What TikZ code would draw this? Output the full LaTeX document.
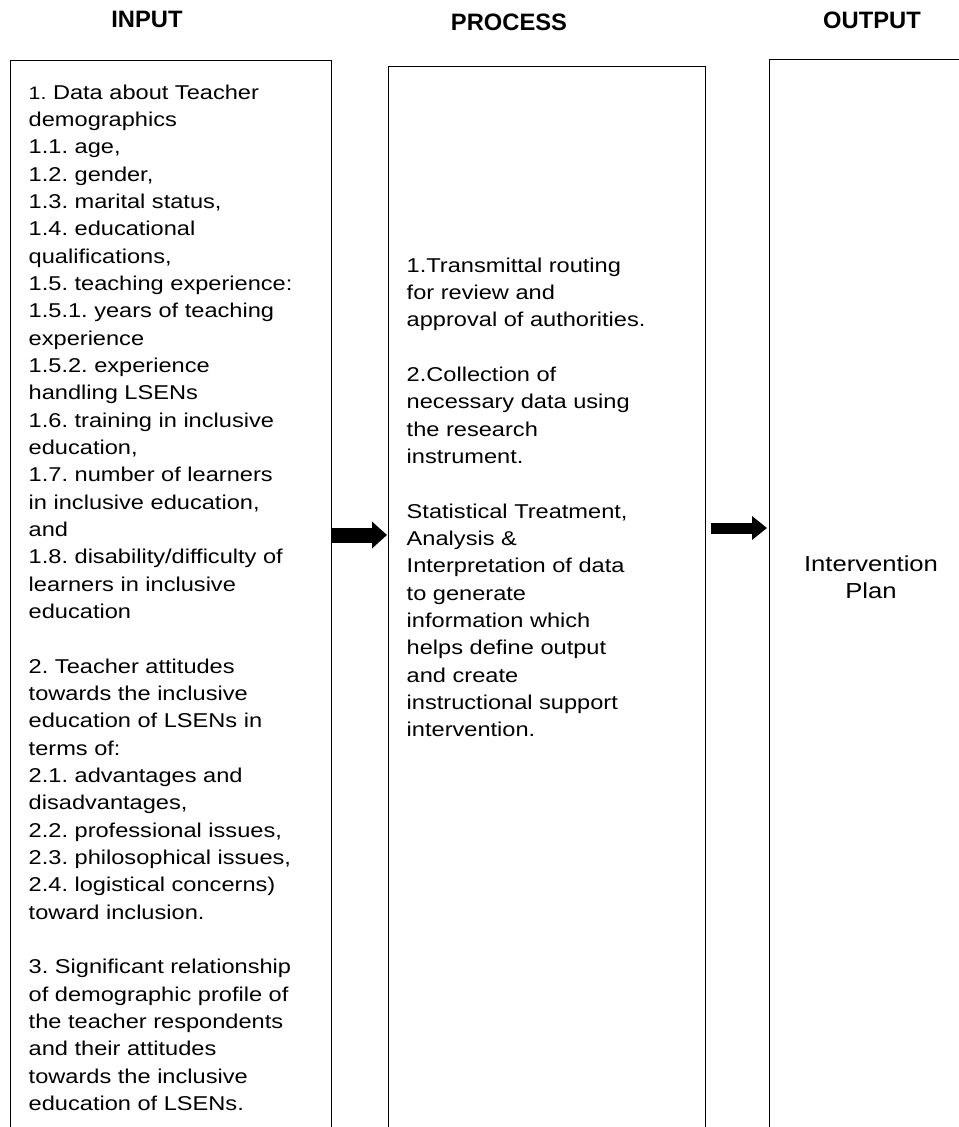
\documentclass[tikz,border=0pt]{standalone}
\usepackage{fontspec}
\setmainfont{Liberation Sans}
\newfontfamily\widefont[FakeStretch=1.18]{Liberation Sans}
\usetikzlibrary{arrows.meta, positioning}
\frenchspacing

\begin{document}
\begin{tikzpicture}[x=0.75pt, y=-0.75pt, line width=1.1pt,
	box/.style={draw, rectangle, anchor=north west, inner sep=0pt},
	heading/.style={font=\fontsize{17.8}{21}\selectfont\bfseries, inner sep=0pt},
	body/.style={font=\widefont\fontsize{15}{20.5}\selectfont\frenchspacing, align=left, inner sep=0pt},
	fat/.style={line width=11.25pt, -{Triangle[length=11.25pt, width=19.5pt]}},
	thin/.style={line width=8.25pt, -{Triangle[length=11.25pt, width=17.25pt]}}]
			\useasboundingbox (0,0) rectangle (959,1127);
			\clip (0,0) rectangle (959,1127);
			
			\node[heading] (inhead) at (147,19) {INPUT};
			\node[heading] (prochead) at (509,22) {PROCESS};
			\node[heading] (outhead) at (872,20) {OUTPUT};
			
			\node[box, minimum width=240.75pt, minimum height=810pt] (inbox) at (10,60) {};
			\node[box, minimum width=237.75pt, minimum height=805.5pt] (procbox) at (388,66) {};
			\node[box, minimum width=158.25pt, minimum height=810.75pt] (outbox) at (769,59) {};
			
			\node[body, anchor=north west] (intext) at (28,84) {{\fontsize{13.5}{20.5}\selectfont 1.} Data about Teacher\\
				demographics\\
				1.1. age,\\
				1.2. gender,\\
				1.3. marital status,\\
				1.4. educational\\
				qualifications,\\
				1.5. teaching experience:\\
				1.5.1. years of teaching\\
				experience\\
				1.5.2. experience\\
				handling LSENs\\
				1.6. training in inclusive\\
				education,\\
				1.7. number of learners\\
				in inclusive education,\\
				and\\
				1.8. disability/difficulty of\\
				learners in inclusive\\
				education\\[20.5pt]
				2. Teacher attitudes\\
				towards the inclusive\\
				education of LSENs in\\
				terms of:\\
				2.1. advantages and\\
				disadvantages,\\
				2.2. professional issues,\\
				2.3. philosophical issues,\\
				2.4. logistical concerns)\\
				toward inclusion.\\[20.5pt]
				3. Significant relationship\\
				of demographic profile of\\
				the teacher respondents\\
				and their attitudes\\
				towards the inclusive\\
				education of LSENs.};
			
			\node[body, anchor=north west] (proctext) at (406,257) {1.Transmittal routing\\
				for review and\\
				approval of authorities.\\[20.5pt]
				2.Collection of\\
				necessary data using\\
				the research\\
				instrument.\\[20.5pt]
				Statistical Treatment,\\
				Analysis \&\\
				Interpretation of data\\
				to generate\\
				information which\\
				helps define output\\
				and create\\
				instructional support\\
				intervention.};
			
			\node[body, align=center, font=\widefont\fontsize{16.3}{20.5}\selectfont] (outtext) at (871,577) {Intervention\\Plan};
			
			\coordinate (a1) at (0,535);
			\coordinate (a2) at (0,528);
			
			\draw[fat, shorten >=0.75pt] (inbox.east |- a1) -- (procbox.west |- a1);
			\draw[thin, shorten <=3.75pt, shorten >=1.5pt] (procbox.east |- a2) -- (outbox.west |- a2);
\end{tikzpicture}
\end{document}
